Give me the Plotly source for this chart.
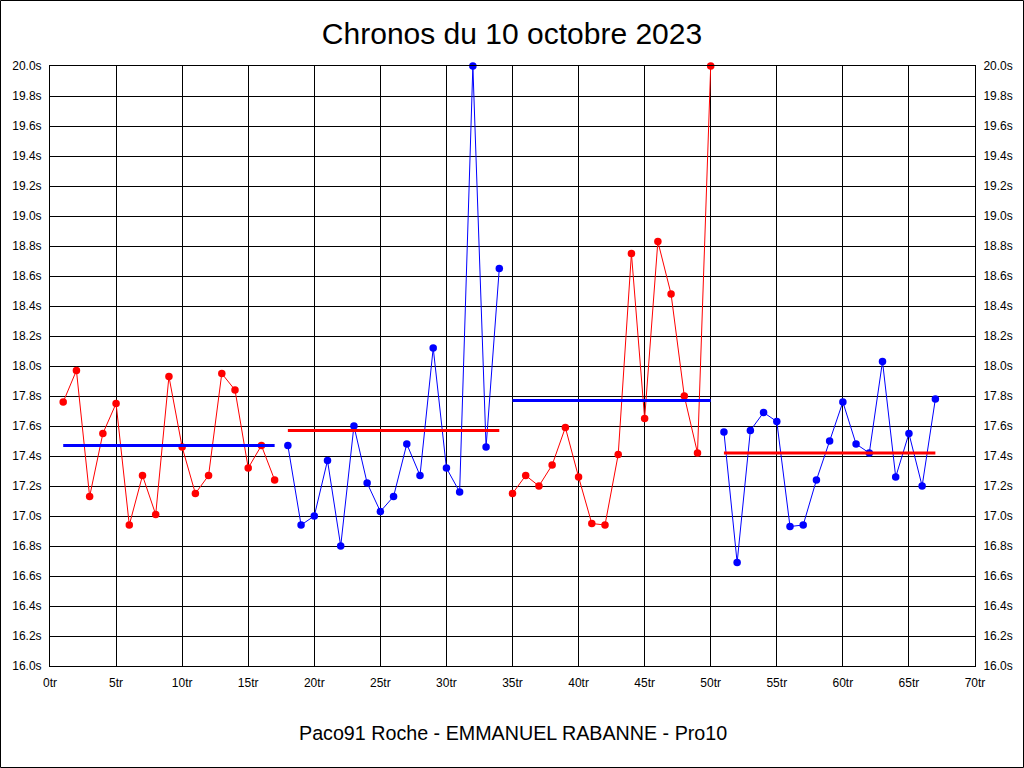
import plotly.graph_objects as go

# tours et chronos (secondes), par relais
tours_1 = list(range(1, 18))
chronos_1 = [17.76, 17.97, 17.13, 17.55, 17.75, 16.94, 17.27, 17.01, 17.93, 17.46,
             17.15, 17.27, 17.95, 17.84, 17.32, 17.47, 17.24]
tours_2 = list(range(18, 35))
chronos_2 = [17.47, 16.94, 17.00, 17.37, 16.80, 17.60, 17.22, 17.03, 17.13, 17.48,
             17.27, 18.12, 17.32, 17.16, 20.00, 17.46, 18.65]
tours_3 = list(range(35, 51))
chronos_3 = [17.15, 17.27, 17.20, 17.34, 17.59, 17.26, 16.95, 16.94, 17.41, 18.75,
             17.65, 18.83, 18.48, 17.80, 17.42, 20.00]
tours_4 = list(range(51, 68))
chronos_4 = [17.56, 16.69, 17.57, 17.69, 17.63, 16.93, 16.94, 17.24, 17.50, 17.76,
             17.48, 17.42, 18.03, 17.26, 17.55, 17.20, 17.78]

moyennes = [17.47, 17.57, 17.77, 17.42]
couleurs = ["#FF0000", "#0000FF", "#FF0000", "#0000FF"]
couleurs_moy = ["#0000FF", "#FF0000", "#0000FF", "#FF0000"]

relais = [(tours_1, chronos_1), (tours_2, chronos_2), (tours_3, chronos_3), (tours_4, chronos_4)]

fig = go.Figure()
for i, (t, c) in enumerate(relais):
    fig.add_trace(go.Scatter(
        x=t, y=c, mode="lines+markers",
        line=dict(color=couleurs[i], width=1),
        marker=dict(color=couleurs[i], size=7.5),
        cliponaxis=False, showlegend=False,
    ))
for i, (t, c) in enumerate(relais):
    fig.add_trace(go.Scatter(
        x=[t[0], t[-1]], y=[moyennes[i], moyennes[i]], mode="lines",
        line=dict(color=couleurs_moy[i], width=3),
        showlegend=False,
    ))
# axe de droite
fig.add_trace(go.Scatter(x=[0], y=[16], yaxis="y2", mode="markers",
                         marker=dict(opacity=0), showlegend=False, hoverinfo="skip"))

yticks = [round(16 + 0.2 * k, 1) for k in range(21)]
ylabels = [f"{v:.1f}s" for v in yticks]
police = "Liberation Sans, Arial, sans-serif"

axe_y = dict(
    range=[16, 20], tickmode="array", tickvals=yticks, ticktext=ylabels,
    showgrid=True, gridcolor="black", gridwidth=1, zeroline=False,
    showline=True, linecolor="black", linewidth=1, ticks="",
    tickfont=dict(size=12, color="black", family=police), ticklabelstandoff=5,
)

fig.update_layout(
    width=1024, height=768,
    margin=dict(l=50, r=49, t=66, b=102, autoexpand=False),
    paper_bgcolor="white", plot_bgcolor="white",
    font=dict(family=police, color="black"),
    title=dict(text="Chronos du 10 octobre 2023", x=0.5, xanchor="center",
               y=1 - 33 / 768, yanchor="middle", font=dict(size=30, color="black")),
    xaxis=dict(
        range=[0, 70], dtick=5, tick0=0, ticksuffix="tr",
        showgrid=True, gridcolor="black", gridwidth=1, zeroline=False,
        showline=True, linecolor="black", linewidth=1, mirror=True, ticks="",
        tickfont=dict(size=12, color="black", family=police), ticklabelstandoff=6,
    ),
    yaxis=axe_y,
    yaxis2=dict(axe_y, overlaying="y", side="right", showgrid=False),
    annotations=[dict(
        text="Paco91 Roche - EMMANUEL RABANNE - Pro10", xref="paper", yref="paper",
        x=0.5, y=(666 - 733) / 600, xanchor="center", yanchor="middle",
        showarrow=False, font=dict(size=19.7, color="black"),
    )],
    shapes=[dict(
        type="rect", xref="paper", yref="paper",
        x0=(0.5 - 50) / 925, x1=(1023.5 - 50) / 925,
        y0=(666 - 767.5) / 600, y1=(666 - 0.5) / 600,
        line=dict(color="black", width=1), fillcolor="rgba(0,0,0,0)",
    )],
)

fig.write_html("out.html", config={"displayModeBar": False},
               post_script="document.body.style.margin='0px';")
